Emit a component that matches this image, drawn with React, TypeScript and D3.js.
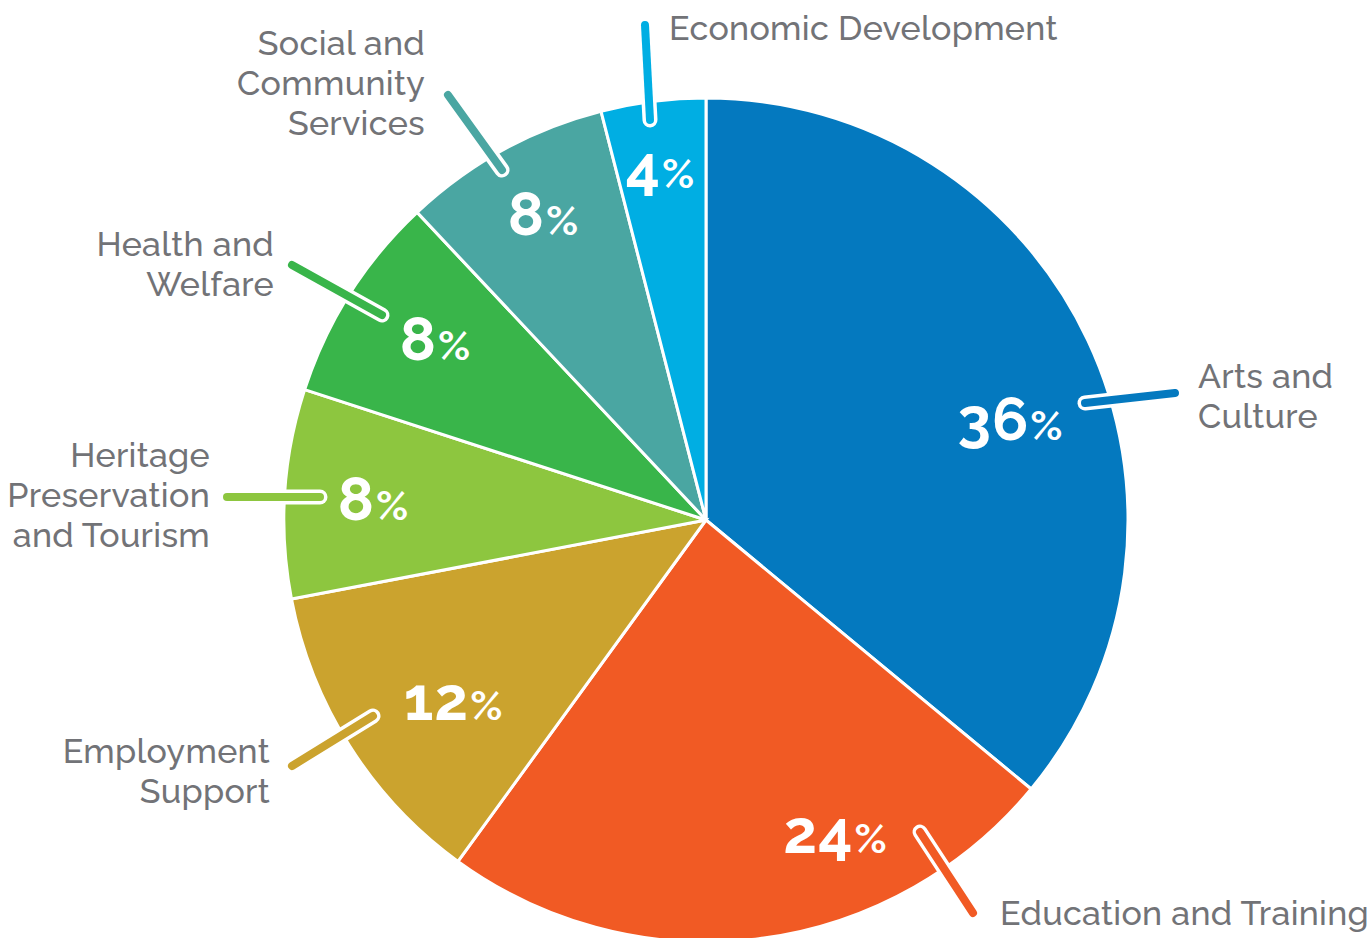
import React from "react";
import * as d3 from "d3";

const categories = [
  "Arts and Culture",
  "Education and Training",
  "Employment Support",
  "Heritage Preservation and Tourism",
  "Health and Welfare",
  "Social and Community Services",
  "Economic Development",
];
const values = [36, 24, 12, 8, 8, 8, 4];
const colors = ["#0479BF", "#F15A24", "#CBA32E", "#8DC63F", "#39B54A", "#4AA6A2", "#00AEE3"];
const labelLines = [
  ["Arts and", "Culture"],
  ["Education and Training"],
  ["Employment", "Support"],
  ["Heritage", "Preservation", "and Tourism"],
  ["Health and", "Welfare"],
  ["Social and", "Community", "Services"],
  ["Economic Development"],
];

// layout (offsets relative to pie centre)
const layout = [
  { pct: [304, -100], lead: [[379, -117], [469, -127]], text: [492, -132], anchor: "start" },
  { pct: [129, 313], lead: [[214, 312], [267, 393]], text: [294, 405], anchor: "start" },
  { pct: [-253, 180], lead: [[-333, 196], [-414, 246]], text: [-436, 243], anchor: "end" },
  { pct: [-333, -20], lead: [[-386, -23], [-479, -23]], text: [-496, -53], anchor: "end" },
  { pct: [-271, -180], lead: [[-324, -205], [-414, -255]], text: [-432, -264], anchor: "end" },
  { pct: [-163, -305], lead: [[-204, -350], [-258, -425]], text: [-281, -465], anchor: "end" },
  { pct: [-46, -352], lead: [[-56, -400], [-61, -495]], text: [-37, -480], anchor: "start" },
];

export default function App() {
  const W = 1369, H = 938;
  const cx = 706, cy = 520, R = 422;
  const pie = d3.pie<number>().sort(null).value((d) => d)(values);
  const arc = d3.arc<d3.PieArcDatum<number>>().innerRadius(0).outerRadius(R);
  const font = "Raleway, Lato, 'Open Sans', sans-serif";
  return (
    <svg width={W} height={H} style={{ position: "absolute", left: 0, top: 0, background: "#fff" }}>
      <g transform={`translate(${cx},${cy})`}>
        {pie.map((p, i) => (
          <path key={i} d={arc(p) || ""} fill={colors[i]} stroke="#fff" strokeWidth={3} />
        ))}
        {layout.map((l, i) => (
          <g key={"l" + i}>
            <line x1={l.lead[0][0]} y1={l.lead[0][1]} x2={l.lead[1][0]} y2={l.lead[1][1]}
              stroke="#fff" strokeWidth={15} strokeLinecap="round" />
            <line x1={l.lead[0][0]} y1={l.lead[0][1]} x2={l.lead[1][0]} y2={l.lead[1][1]}
              stroke={colors[i]} strokeWidth={8} strokeLinecap="round" />
          </g>
        ))}
        {layout.map((l, i) => (
          <text key={"p" + i} x={l.pct[0]} y={l.pct[1] + 20} textAnchor="middle" fill="#fff"
            fontFamily={font} fontWeight={700}>
            <tspan fontSize={60} letterSpacing={1}>{values[i]}</tspan>
            <tspan fontSize={41} dx={1}>%</tspan>
          </text>
        ))}
        {layout.map((l, i) => (
          <text key={"t" + i} x={l.text[0]} textAnchor={l.anchor} fill="#727377"
            fontFamily={font} fontSize={34} fontWeight={500} letterSpacing={0.3}>
            {labelLines[i].map((s, j) => (
              <tspan key={j} x={l.text[0]} y={l.text[1] + j * 40}>{s}</tspan>
            ))}
          </text>
        ))}
      </g>
    </svg>
  );
}
